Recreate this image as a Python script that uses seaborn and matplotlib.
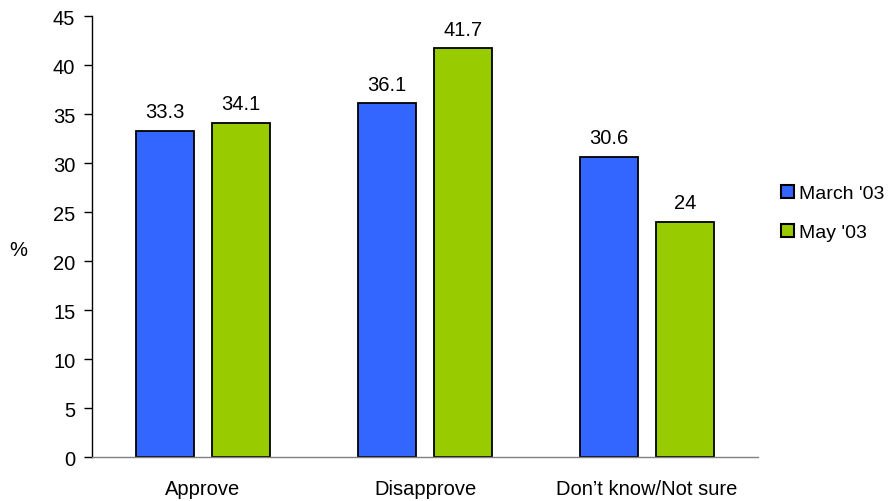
import seaborn as sns
import matplotlib.pyplot as plt
import pandas as pd

categories = ["Approve", "Disapprove", "Don\u2019t know/Not sure"]
march_03 = [33.3, 36.1, 30.6]
may_03 = [34.1, 41.7, 24]
series = ["March '03", "May '03"]
colors = ["#3366FF", "#99CC00"]

df = pd.DataFrame({
    "cat": categories * 2,
    "val": march_03 + may_03,
    "series": [series[0]] * 3 + [series[1]] * 3,
})

sns.set_style("white")
plt.rcParams['font.family'] = ['Liberation Sans', 'DejaVu Sans']
plt.rcParams['text.color'] = 'black'
plt.rcParams['xtick.color'] = 'black'
plt.rcParams['ytick.color'] = 'black'
plt.rcParams['axes.labelcolor'] = 'black'

fs = 14.5

fig = plt.figure(figsize=(8.95, 5.02), dpi=100)
ax = fig.add_axes([0.1028, 0.0876, 0.7442, 0.8785])

sns.barplot(data=df, x="cat", y="val", hue="series", palette=colors,
            width=0.684, gap=0.237, edgecolor="black", linewidth=1.3,
            saturation=1, ax=ax)

for c in ax.containers:
    labels = ["%g" % v for v in c.datavalues]
    ax.bar_label(c, labels=labels, padding=7, fontsize=fs)

ax.set_xlim(-0.5, 2.5)
ax.set_ylim(0, 45)
ax.set_yticks(range(0, 46, 5))
ax.set_xlabel("")
ax.set_ylabel("%", rotation=0, fontsize=fs, va="center", ha="center")
ax.yaxis.set_label_coords(-0.111, 0.47)

ax.set_xticks([-0.5, 0.5, 1.5, 2.5], minor=True)
ax.tick_params(axis="x", which="major", length=0, labelsize=fs, pad=16)
ax.tick_params(axis="x", which="minor", length=6, width=1, color="#808080", direction="out")
ax.tick_params(axis="y", length=6, width=1, color="black", direction="out", labelsize=fs, left=True, pad=6)

for s in ["top", "right"]:
    ax.spines[s].set_visible(False)
ax.spines["left"].set_color("black")
ax.spines["left"].set_linewidth(1)
ax.spines["bottom"].set_color("#808080")
ax.spines["bottom"].set_linewidth(1)

leg = ax.legend(loc="center left", bbox_to_anchor=(1.02, 0.553), frameon=False,
                fontsize=14, handlelength=0.65, handleheight=0.65,
                handletextpad=0.25, labelspacing=1.1, borderpad=0)
for h in leg.legend_handles:
    h.set_edgecolor("black")
    h.set_linewidth(1.5)

fig.savefig("out.png", dpi=100)
